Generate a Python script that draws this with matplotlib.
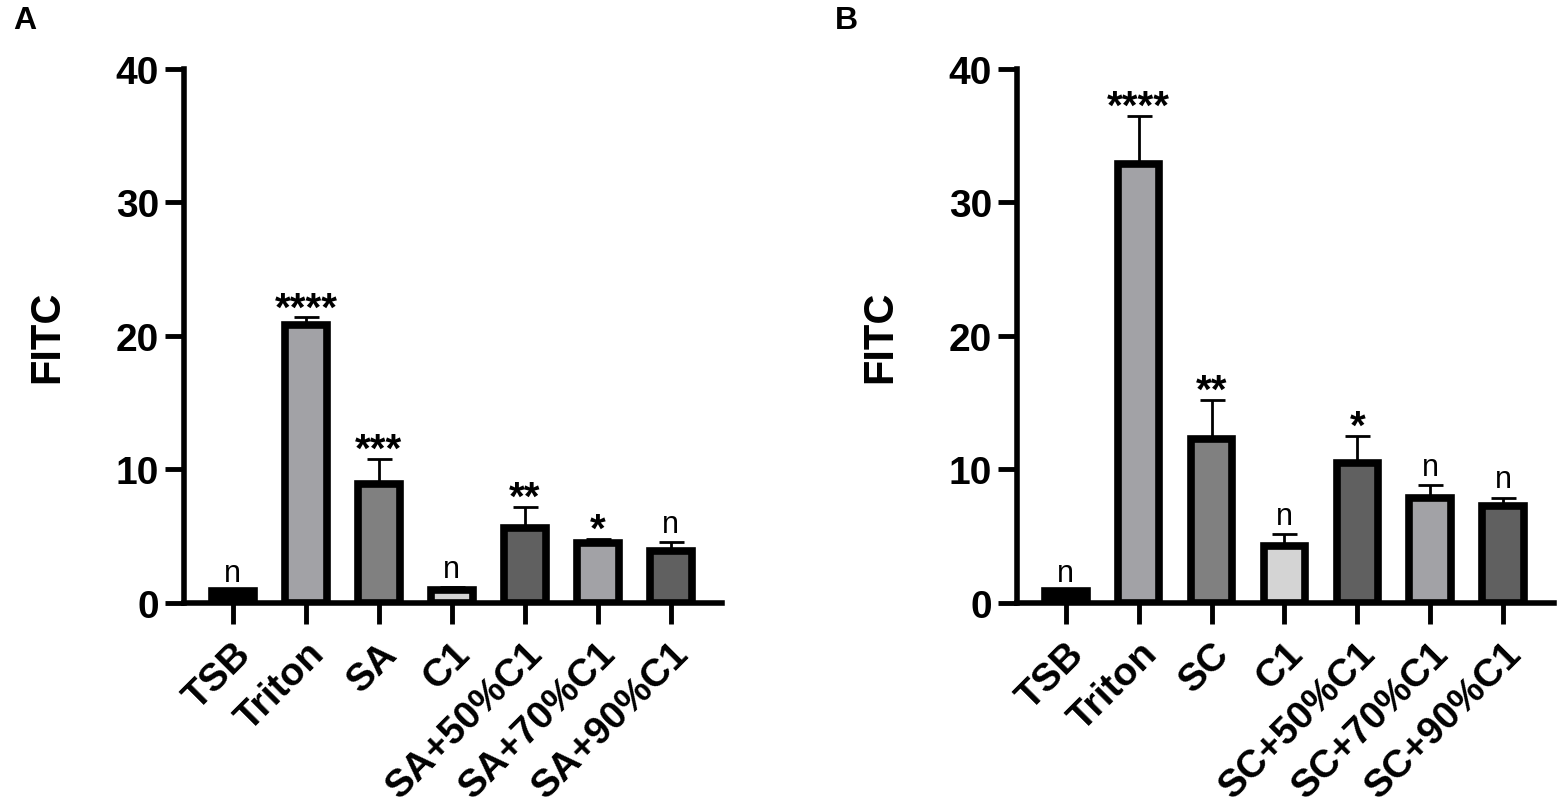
import numpy as np
import matplotlib
matplotlib.use("Agg")
import matplotlib.pyplot as plt

plt.rcParams['font.family'] = ['Liberation Sans', 'DejaVu Sans']

# Panel A
labels_a = ['TSB', 'Triton', 'SA', 'C1', 'SA+50%C1', 'SA+70%C1', 'SA+90%C1']
mean_a = [0.9, 20.8, 8.9, 1.0, 5.6, 4.5, 3.9]
err_a = [0.0, 0.6, 1.9, 0.2, 1.6, 0.3, 0.7]
sig_a = ['n', '****', '***', 'n', '**', '*', 'n']

# Panel B
labels_b = ['TSB', 'Triton', 'SC', 'C1', 'SC+50%C1', 'SC+70%C1', 'SC+90%C1']
mean_b = [0.9, 32.9, 12.3, 4.3, 10.5, 7.9, 7.3]
err_b = [0.0, 3.6, 2.9, 0.9, 2.0, 0.9, 0.6]
sig_b = ['n', '****', '**', 'n', '*', 'n', 'n']

colors = ['#000000', '#a2a2a6', '#808080', '#d4d4d4', '#606060', '#a2a2a6', '#606060']


def panel(ax, labels, mean, err, sig):
    x = np.arange(len(labels))
    ax.errorbar(x, mean, yerr=[np.zeros(len(err)), err], fmt='none',
                ecolor='black', elinewidth=2, capsize=9, capthick=2, zorder=2)
    ax.bar(x, mean, width=0.57, color=colors, edgecolor='black', linewidth=5.5, zorder=3)
    for xi, m, e, s in zip(x, mean, err, sig):
        top = m + e
        if s == 'n':
            ax.text(xi, top + 0.75, s, ha='center', va='baseline', fontsize=22)
        else:
            ax.text(xi, top - 0.15, s, ha='center', va='baseline', fontsize=29,
                    fontweight='bold')
    ax.set_xlim(-0.67, 6.7)
    ax.set_ylim(0, 40)
    ax.set_yticks([0, 10, 20, 30, 40])
    ax.set_xticks(x)
    ax.set_xticklabels(labels, rotation=45, ha='right', rotation_mode='anchor',
                       fontsize=28, fontweight='bold')
    for t in ax.get_yticklabels():
        t.set_fontsize(28)
        t.set_fontweight('bold')
    ax.spines['top'].set_visible(False)
    ax.spines['right'].set_visible(False)
    ax.spines['left'].set_linewidth(4)
    ax.spines['bottom'].set_linewidth(4)
    ax.tick_params(axis='y', length=14, width=3.5, pad=4)
    ax.tick_params(axis='x', length=15, width=3.5, pad=8)
    ax.set_ylabel('FITC', fontsize=30, fontweight='bold')
    ax.yaxis.set_label_coords(-0.2175, 0.5)


fig = plt.figure(figsize=(15.62, 8.12), dpi=100)
ax1 = fig.add_axes([0.1178, 0.2562, 0.3444, 0.6576])
ax2 = fig.add_axes([0.6511, 0.2562, 0.3438, 0.6576])
panel(ax1, labels_a, mean_a, err_a, sig_a)
panel(ax2, labels_b, mean_b, err_b, sig_b)

fig.text(0.016, 0.992, 'A', fontsize=23, fontweight='bold', va='top', ha='center')
fig.text(0.5416, 0.992, 'B', fontsize=23, fontweight='bold', va='top', ha='center')

fig.savefig('out.png', dpi=100)
